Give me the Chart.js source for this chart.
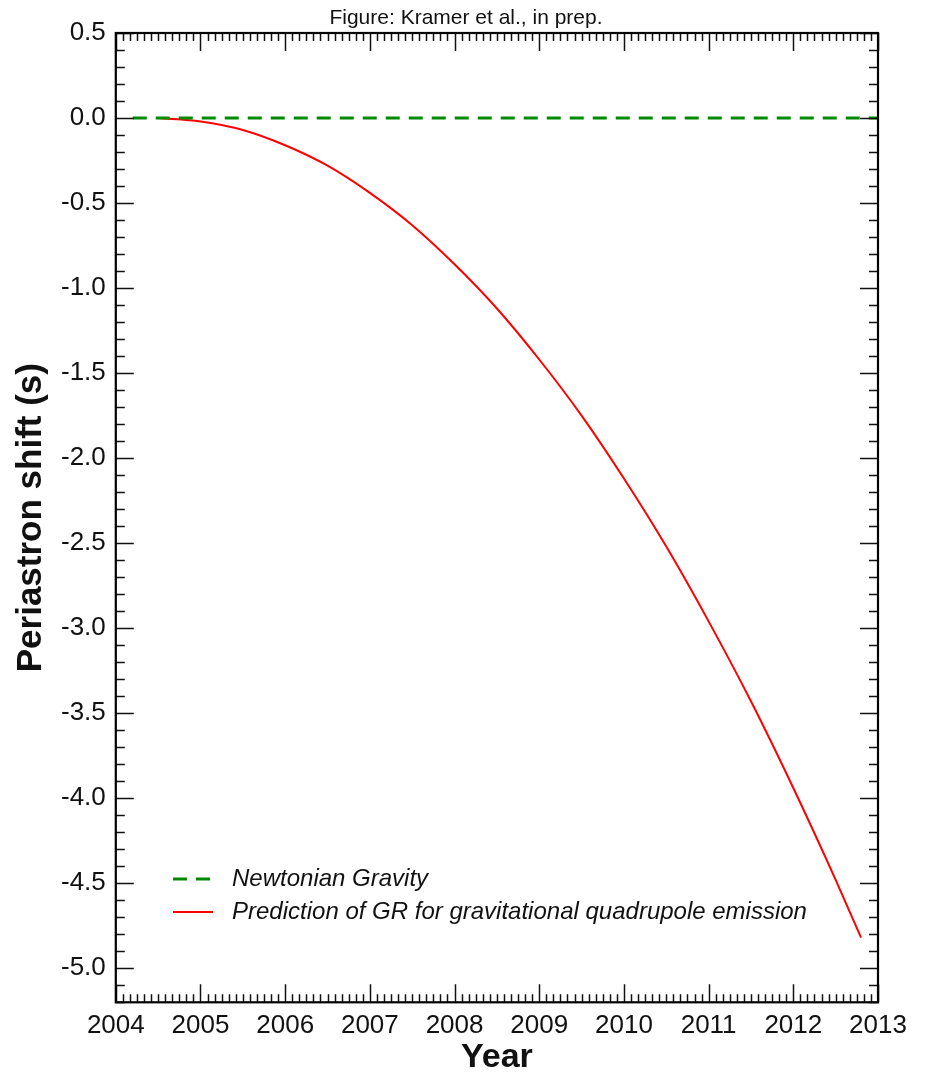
<!DOCTYPE html>
<html>
<head>
<meta charset="utf-8">
<title>Periastron shift</title>
<script src="https://cdn.jsdelivr.net/npm/chart.js@4"></script>
<style>
  html, body { margin: 0; padding: 0; background: #fff; }
  #wrap { width: 932px; height: 1075px; position: relative; }
</style>
</head>
<body>
<div id="wrap"><canvas id="shiftChart"></canvas></div>
<script>
// values
const grYears = [2004.5, 2005.0, 2005.5, 2006.0, 2006.5, 2007.0, 2007.5, 2008.0, 2008.5,
                 2009.0, 2009.5, 2010.0, 2010.5, 2011.0, 2011.5, 2012.0, 2012.5, 2012.8];
const grShift = [0.00, -0.02, -0.07, -0.16, -0.28, -0.44, -0.63, -0.86, -1.12,
                 -1.42, -1.75, -2.12, -2.52, -2.96, -3.43, -3.94, -4.48, -4.82];
const newtonYears = [2004.2, 2013];
const newtonShift = [0, 0];
const xTickLabels = ['2004', '2005', '2006', '2007', '2008', '2009', '2010', '2011', '2012', '2013'];
const yTickLabels = ['-5.0', '-4.5', '-4.0', '-3.5', '-3.0', '-2.5', '-2.0', '-1.5', '-1.0', '-0.5', '0.0', '0.5'];
const figureNote = 'Figure: Kramer et al., in prep.';

const FONT = "'Liberation Sans', Arial, Helvetica, sans-serif";

function toPoints(xs, ys) {
  return xs.map((x, i) => ({ x: x, y: ys[i] }));
}

// IDL-style frame with inward ticks on all four sides, plus the in-plot legend
const frameTicks = {
  id: 'frameTicks',
  afterDatasetsDraw(chart) {
    const ctx = chart.ctx;
    const a = chart.chartArea;
    const xs = chart.scales.x, ys = chart.scales.y;
    ctx.save();
    ctx.strokeStyle = '#111';
    ctx.lineWidth = 1.5;
    ctx.beginPath();
    // x: monthly minor ticks, yearly major
    for (let m = Math.ceil(xs.min * 12); m <= Math.floor(xs.max * 12 + 1e-6); m++) {
      const px = Math.round(xs.getPixelForValue(m / 12)) + 0.5;
      const len = (m % 12 === 0) ? 18 : 8;
      ctx.moveTo(px, a.bottom); ctx.lineTo(px, a.bottom - len);
      ctx.moveTo(px, a.top); ctx.lineTo(px, a.top + len);
    }
    // y: 0.1 minor, 0.5 major
    for (let k = Math.ceil(ys.min * 10 - 1e-6); k <= Math.floor(ys.max * 10 + 1e-6); k++) {
      const py = Math.round(ys.getPixelForValue(k / 10)) + 0.5;
      const len = (k % 5 === 0) ? 18 : 9;
      ctx.moveTo(a.left, py); ctx.lineTo(a.left + len, py);
      ctx.moveTo(a.right, py); ctx.lineTo(a.right - len, py);
    }
    ctx.stroke();
    ctx.lineWidth = 2.2;
    ctx.strokeStyle = '#000';
    ctx.strokeRect(a.left, a.top, a.right - a.left, a.bottom - a.top);
    ctx.restore();
  },
  afterDraw(chart) {
    const ctx = chart.ctx;
    const rows = [879, 912];
    ctx.save();
    chart.data.datasets.forEach((ds, i) => {
      const y = rows[i];
      ctx.beginPath();
      ctx.strokeStyle = ds.borderColor;
      ctx.lineWidth = ds.borderWidth;
      ctx.setLineDash(ds.borderDash || []);
      ctx.moveTo(173, y);
      ctx.lineTo(213, y);
      ctx.stroke();
      ctx.setLineDash([]);
      ctx.fillStyle = '#111';
      ctx.font = 'italic 24px ' + FONT;
      ctx.textBaseline = 'middle';
      ctx.textAlign = 'left';
      ctx.fillText(ds.label, 232, y);
    });
    // note centred on the whole figure
    ctx.font = '21px ' + FONT;
    ctx.textAlign = 'center';
    ctx.fillText(figureNote, chart.width / 2, 18);
    ctx.restore();
  }
};

new Chart(document.getElementById('shiftChart'), {
  type: 'line',
  data: {
    datasets: [
      {
        label: 'Newtonian Gravity',
        data: toPoints(newtonYears, newtonShift),
        borderColor: '#008a00',
        borderWidth: 3,
        borderDash: [14, 9],
        pointRadius: 0,
        fill: false
      },
      {
        label: 'Prediction of GR for gravitational quadrupole emission',
        data: toPoints(grYears, grShift),
        borderColor: '#ff0000',
        borderWidth: 2,
        cubicInterpolationMode: 'monotone',
        pointRadius: 0,
        fill: false
      }
    ]
  },
  options: {
    responsive: true,
    maintainAspectRatio: false,
    animation: false,
    layout: { padding: { left: 14, right: 54, top: 33, bottom: -3 } },
    plugins: {
      legend: { display: false },
      tooltip: { enabled: false },
      title: { display: false }
    },
    scales: {
      x: {
        type: 'linear',
        min: 2004,
        max: 2013,
        grid: { display: false, drawTicks: false },
        border: { display: false },
        ticks: {
          stepSize: 1,
          autoSkip: false,
          maxRotation: 0,
          includeBounds: false,
          padding: 8,
          color: '#111',
          font: { family: FONT, size: 26 },
          callback: (v) => xTickLabels[Math.round(v) - 2004] ?? ''
        },
        title: {
          display: true,
          text: 'Year',
          color: '#111',
          font: { family: FONT, size: 34, weight: 'bold', lineHeight: 0.75 },
          padding: { top: -5, bottom: 8 }
        }
      },
      y: {
        type: 'linear',
        min: -5.2,
        max: 0.5,
        grid: { display: false, drawTicks: false },
        border: { display: false },
        ticks: {
          stepSize: 0.5,
          autoSkip: false,
          includeBounds: false,
          padding: 10,
          color: '#111',
          font: { family: FONT, size: 26 },
          callback: (v) => yTickLabels[Math.round((v + 5) * 2)] ?? ''
        },
        title: {
          display: true,
          text: 'Periastron shift (s)',
          color: '#111',
          font: { family: FONT, size: 35, weight: 'bold', lineHeight: 1 },
          padding: { top: 0, bottom: 2 }
        }
      }
    }
  },
  plugins: [frameTicks]
});
</script>
</body>
</html>
